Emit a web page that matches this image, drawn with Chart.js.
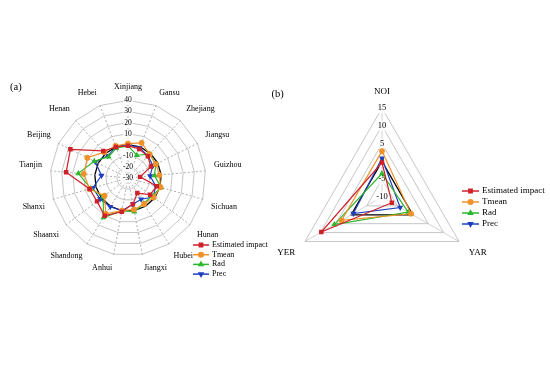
<!DOCTYPE html>
<html>
<head>
<meta charset="utf-8">
<script src="https://cdn.jsdelivr.net/npm/chart.js@4.4.1/dist/chart.umd.min.js"></script>
<style>
  html, body { margin: 0; padding: 0; background: #fff; }
  body { width: 550px; height: 367px; position: relative; overflow: hidden; }
  canvas { position: absolute; top: 0; }
  #chartA { left: 0; }
  #chartB { left: 268px; }
</style>
</head>
<body>
<canvas id="chartA" width="268" height="367"></canvas>
<canvas id="chartB" width="282" height="367"></canvas>
<script>
// panel (a): provinces, clockwise from the top
const provinces = ['Xinjiang', 'Gansu', 'Zhejiang', 'Jiangsu', 'Guizhou', 'Sichuan', 'Hunan', 'Hubei',
    'Jiangxi', 'Anhui', 'Shandong', 'Shaanxi', 'Shanxi', 'Tianjin', 'Beijing', 'Henan', 'Hebei'];
const impactA = [-1, -2, -3.5, -7, -19, -3, -5, -14, -6, 1, 10, 5, 6, 26, 28, 3, 0];
const tmeanA = [1, 4, -1, -2, -1.5, 0.5, -1, -2.5, -1, 0, 8, -3.5, 6, 10, 11, 1.5, 1];
const radA = [-1, -8, -1, -2, -6, 1, -3, -3, 1, 0, 12, -2, 5, 15, 4, -4, -1];
const precA = [0, -1, -3, -5, -10, -4, -1.5, -7.5, -6, 0, 0.5, 1.5, 3, -6, 3, -3, 0];
const ticksA = [-30, -20, -10, 0, 10, 20, 30, 40];

// panel (b)
const indices = ['NOI', 'YAR', 'YER'];
const impactB = [-0.3, -6.8, 9.7];
const tmeanB = [2.9, -0.6, 3.1];
const radB = [-3.4, -1.5, 5.5];
const precB = [0.9, -4.1, -0.7];
const ticksB = [-10, -5, 0, 5, 10, 15];

const seriesNames = ['Estimated impact', 'Tmean', 'Rad', 'Prec'];
const seriesColors = ['#d0202a', '#f0922a', '#2db82d', '#1f3fc0'];
const markerStyles = ['rect', 'circle', 'triangle', 'triangle'];
const markerRotation = [0, 0, 0, 180];

Chart.defaults.font.family = '"Liberation Serif", "Times New Roman", serif';
Chart.defaults.color = '#000';

const buildSets = (values) => values.map((vals, i) => ({
    label: seriesNames[i],
    data: vals,
    borderColor: seriesColors[i],
    backgroundColor: seriesColors[i],
    pointBackgroundColor: seriesColors[i],
    pointBorderColor: seriesColors[i],
    pointStyle: markerStyles[i],
    rotation: markerRotation[i],
    pointRadius: 2.3,
    borderWidth: 1.2,
    fill: false
}));

// legend + panel tag drawn where the figure has them (over the label area)
const sideLegend = {
    id: 'sideLegend',
    afterDraw(chart, args, opts) {
        const ctx = chart.ctx;
        const fam = Chart.defaults.font.family;
        ctx.save();
        ctx.textBaseline = 'middle';
        ctx.textAlign = 'left';
        chart.data.datasets.forEach((ds, i) => {
            const y = opts.y + i * opts.gap;
            ctx.strokeStyle = ds.borderColor;
            ctx.fillStyle = ds.borderColor;
            ctx.lineWidth = 1.5;
            ctx.beginPath();
            ctx.moveTo(opts.x, y);
            ctx.lineTo(opts.x + opts.line, y);
            ctx.stroke();
            Chart.helpers.drawPoint(ctx, {
                pointStyle: ds.pointStyle, rotation: ds.rotation, radius: 2.3, borderWidth: 1
            }, opts.x + opts.line / 2, y);
            ctx.fillStyle = '#000';
            ctx.font = opts.size + 'px ' + fam;
            ctx.fillText(ds.label, opts.x + opts.line + 3, y);
        });
        ctx.font = opts.tagSize + 'px ' + fam;
        ctx.fillText(opts.tag, opts.tagX, opts.tagY);
        ctx.restore();
    }
};

const radarScale = (ticks, size, dashed, labelGap) => ({
    min: ticks[0],
    max: ticks[ticks.length - 1],
    ticks: {
        stepSize: ticks[1] - ticks[0],
        font: { size: size },
        color: '#000',
        backdropColor: 'rgba(255,255,255,0.8)',
        backdropPadding: 1
    },
    pointLabels: { font: { size: size + 0.5 }, color: '#000', padding: labelGap },
    grid: {
        color: (c) => (c.tick && c.tick.value === 0 ? '#000' : '#b8b8b8'),
        lineWidth: (c) => (c.tick && c.tick.value === 0 ? 1.3 : 0.8)
    },
    angleLines: { color: dashed ? '#999' : '#c8c8c8', lineWidth: 0.8, borderDash: dashed ? [2, 2] : [] }
});

new Chart(document.getElementById('chartA'), {
    type: 'radar',
    data: { labels: provinces, datasets: buildSets([impactA, tmeanA, radA, precA]) },
    options: {
        responsive: false,
        animation: false,
        layout: { padding: { left: 4, right: 14, top: 82, bottom: 93 } },
        plugins: {
            legend: { display: false },
            tooltip: { enabled: false },
            sideLegend: { x: 193, y: 245, gap: 9.7, line: 16, size: 8, tag: '(a)', tagSize: 10.5, tagX: 10, tagY: 87 }
        },
        scales: { r: radarScale(ticksA, 7.5, true, 4) }
    },
    plugins: [sideLegend]
});

new Chart(document.getElementById('chartB'), {
    type: 'radar',
    data: { labels: indices, datasets: buildSets([impactB, tmeanB, radB, precB]) },
    options: {
        responsive: false,
        animation: false,
        layout: { padding: { left: 0, right: 52, top: 78, bottom: 66 } },
        plugins: {
            legend: { display: false },
            tooltip: { enabled: false },
            sideLegend: { x: 194, y: 191, gap: 11, line: 17, size: 9, tag: '(b)', tagSize: 10.5, tagX: 3.5, tagY: 94 }
        },
        scales: { r: radarScale(ticksB, 8.5, false, 6) }
    },
    plugins: [sideLegend]
});
</script>
</body>
</html>
